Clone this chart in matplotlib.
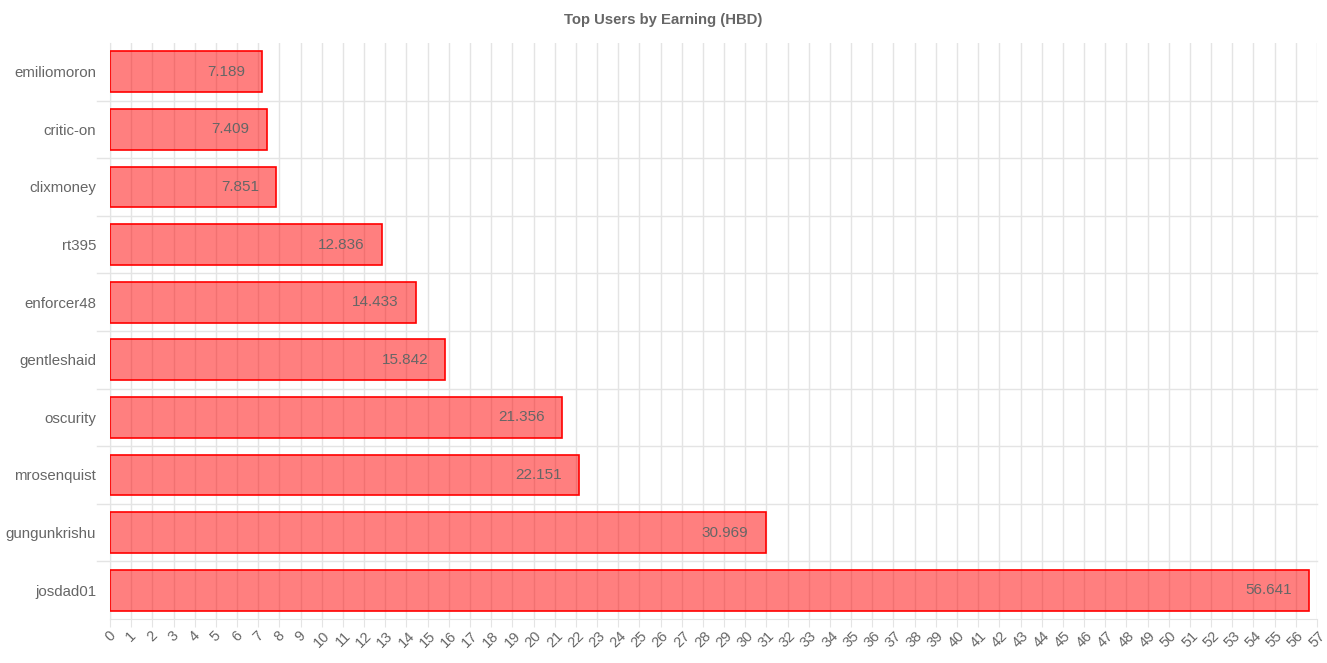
import matplotlib.pyplot as plt
import numpy as np

users = ["emiliomoron", "critic-on", "clixmoney", "rt395", "enforcer48",
         "gentleshaid", "oscurity", "mrosenquist", "gungunkrishu", "josdad01"]
earnings = [7.189, 7.409, 7.851, 12.836, 14.433, 15.842, 21.356, 22.151, 30.969, 56.641]
x_ticks = list(range(0, 58))

grid_c = "#e4e4e4"
text_c = "#666666"

plt.rc("font", family=["Liberation Sans", "DejaVu Sans"])
fig = plt.figure(figsize=(13.27, 6.63), dpi=100)
ax = fig.add_axes([110 / 1327, 1 - 619 / 663, 1207 / 1327, 576 / 663])

y = np.arange(len(users))
ax.barh(y, earnings, height=0.71, color=(1, 0, 0, 0.5), edgecolor="red", linewidth=1.2, zorder=3)
for yi, v in zip(y, earnings):
    ax.annotate(f"{v:g}", xy=(v, yi), xytext=(-12.5, 0), textcoords="offset points",
                ha="right", va="center", fontsize=11, color=text_c, zorder=4)

ax.set_xlim(0, 57)
ax.set_ylim(len(users) - 0.5, -0.5)
ax.set_xticks(x_ticks)
ax.set_xticklabels([str(t) for t in x_ticks], rotation=45, ha="center",
                   fontsize=10.5, color=text_c)
ax.set_yticks(y)
ax.set_yticklabels(users, fontsize=10.8, color=text_c)
ax.tick_params(axis="y", length=0, pad=10)
ax.tick_params(axis="x", length=6, color=grid_c, pad=1)

# grid lines, horizontal ones between categories
for xv in x_ticks:
    ax.axvline(xv, color=grid_c, lw=1, zorder=1)
for yb in np.arange(0.5, len(users) - 0.5, 1):
    ax.plot([-0.6, 57], [yb, yb], color=grid_c, lw=1, zorder=1, clip_on=False)

for s in ["top", "right"]:
    ax.spines[s].set_visible(False)
for s in ["left", "bottom"]:
    ax.spines[s].set_color(grid_c)

fig.text(0.5, 1 - 20 / 663, "Top Users by Earning (HBD)", ha="center", va="center",
         fontsize=10.7, fontweight="bold", color=text_c)

fig.savefig("out.png", dpi=100)
